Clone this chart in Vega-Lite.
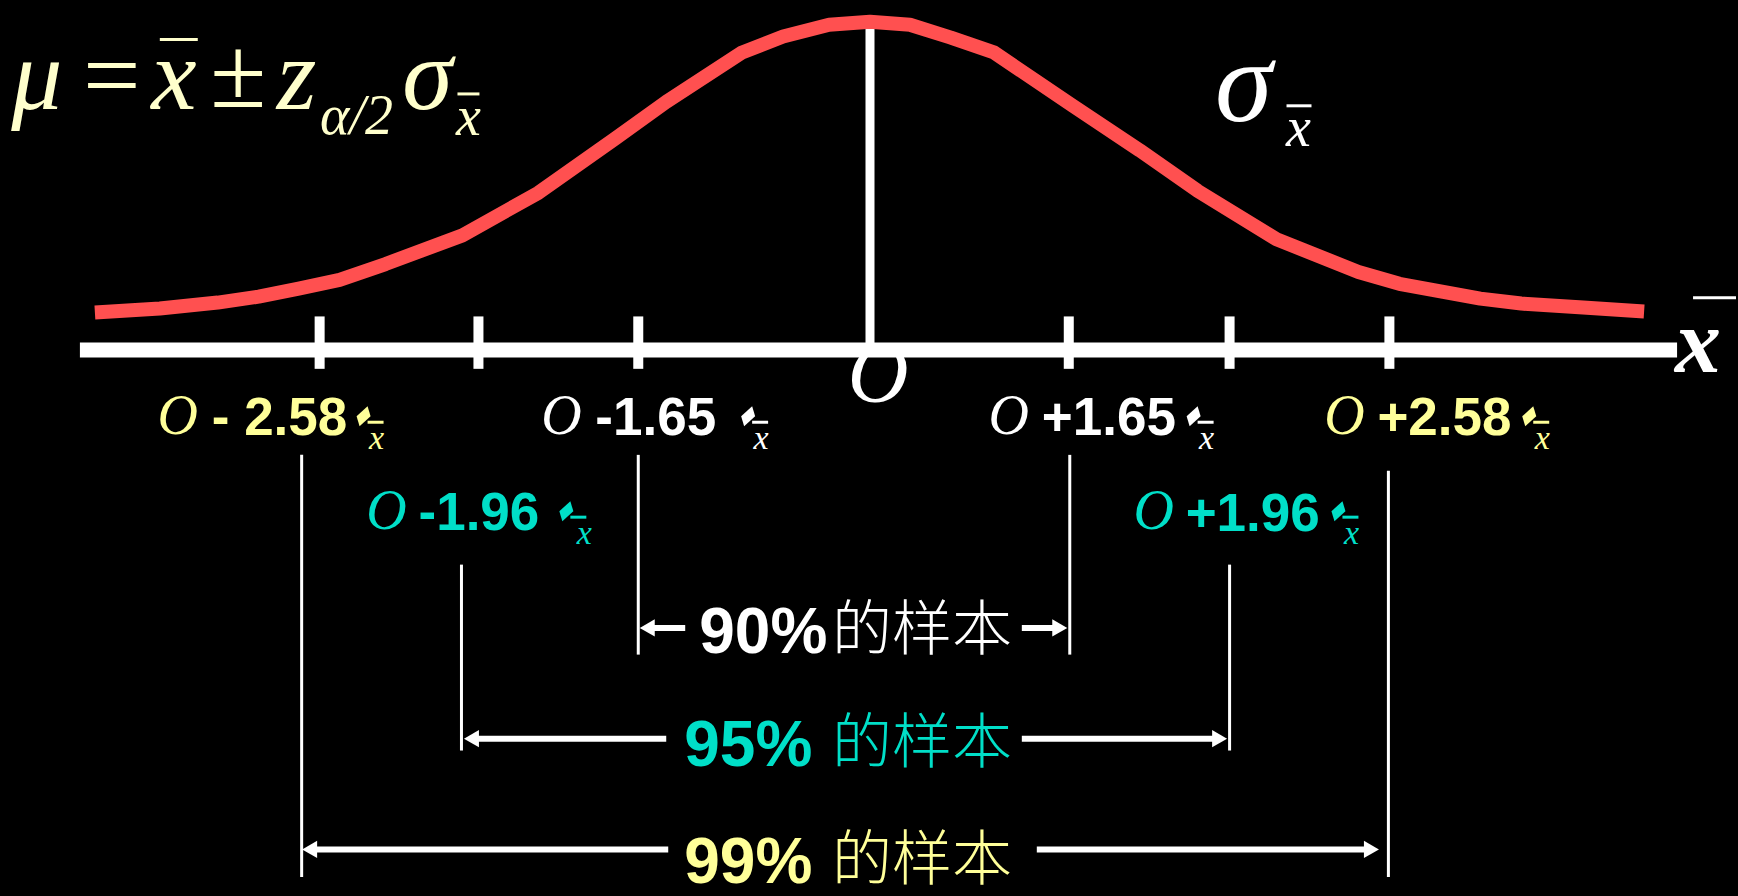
{
  "$schema": "https://vega.github.io/schema/vega-lite/v6.json",
  "width": 1738,
  "height": 896,
  "padding": 0,
  "autosize": {"type": "fit", "contains": "padding"},
  "background": "#000000",
  "config": {"view": {"stroke": null}},
  "datasets": {
    "curve": [
      {"x": 95, "y": 316}, {"x": 160, "y": 312}, {"x": 218, "y": 306}, {"x": 259, "y": 300},
      {"x": 299, "y": 292}, {"x": 340, "y": 283}, {"x": 386, "y": 267}, {"x": 463, "y": 238},
      {"x": 539, "y": 195}, {"x": 616, "y": 140}, {"x": 667, "y": 103}, {"x": 743, "y": 53},
      {"x": 784, "y": 37}, {"x": 830, "y": 25}, {"x": 871, "y": 22}, {"x": 911, "y": 25},
      {"x": 952, "y": 38}, {"x": 995, "y": 53}, {"x": 1074, "y": 107}, {"x": 1141, "y": 152},
      {"x": 1199, "y": 193}, {"x": 1278, "y": 242}, {"x": 1360, "y": 275}, {"x": 1401, "y": 287},
      {"x": 1482, "y": 302}, {"x": 1523, "y": 307}, {"x": 1585, "y": 311}, {"x": 1646, "y": 315}
    ],
    "centerline": [{"x": 871, "y": 28, "x2": 871, "y2": 352}],
    "axisline": [{"x": 80, "y": 354, "x2": 1679, "y2": 354}],
    "ticks": [
      {"x": 320, "y": 320, "x2": 320, "y2": 373},
      {"x": 479, "y": 320, "x2": 479, "y2": 373},
      {"x": 639, "y": 320, "x2": 639, "y2": 373},
      {"x": 1070, "y": 320, "x2": 1070, "y2": 373},
      {"x": 1231, "y": 320, "x2": 1231, "y2": 373},
      {"x": 1391, "y": 320, "x2": 1391, "y2": 373}
    ],
    "brackets": [
      {"x": 302, "y": 460, "x2": 302, "y2": 887},
      {"x": 1390, "y": 476, "x2": 1390, "y2": 887},
      {"x": 462, "y": 571, "x2": 462, "y2": 759},
      {"x": 1231, "y": 571, "x2": 1231, "y2": 759},
      {"x": 639, "y": 460, "x2": 639, "y2": 662},
      {"x": 1071, "y": 460, "x2": 1071, "y2": 662}
    ],
    "shafts": [
      {"x": 650, "y": 635, "x2": 686, "y2": 635},
      {"x": 1023, "y": 635, "x2": 1059, "y2": 635},
      {"x": 474, "y": 747, "x2": 667, "y2": 747},
      {"x": 1023, "y": 747, "x2": 1219, "y2": 747},
      {"x": 312, "y": 859, "x2": 669, "y2": 859},
      {"x": 1038, "y": 859, "x2": 1371, "y2": 859}
    ],
    "heads": [
      {"x": 648, "y": 635, "dir": "left"},
      {"x": 1061, "y": 635, "dir": "right"},
      {"x": 472, "y": 747, "dir": "left"},
      {"x": 1221, "y": 747, "dir": "right"},
      {"x": 310, "y": 859, "dir": "left"},
      {"x": 1373, "y": 859, "dir": "right"}
    ],
    "overbars": [
      {"x": 160, "y": 40, "x2": 198, "y2": 40, "tone": "cream"},
      {"x": 458, "y": 95, "x2": 480, "y2": 95, "tone": "cream"},
      {"x": 1288, "y": 107, "x2": 1313, "y2": 107, "tone": "white"},
      {"x": 1695, "y": 301, "x2": 1738, "y2": 301, "tone": "white"}
    ],
    "labelbars": [
      {"x": 368, "y": 427, "x2": 384, "y2": 427, "tone": "yellow"},
      {"x": 753, "y": 427, "x2": 769, "y2": 427, "tone": "white"},
      {"x": 1199, "y": 427, "x2": 1215, "y2": 427, "tone": "white"},
      {"x": 1535, "y": 427, "x2": 1551, "y2": 427, "tone": "yellow"},
      {"x": 571, "y": 523, "x2": 587, "y2": 523, "tone": "cyan"},
      {"x": 1344, "y": 523, "x2": 1360, "y2": 523, "tone": "cyan"}
    ],
    "diamonds": [
      {"x": 364, "y": 421, "tone": "yellow"},
      {"x": 749, "y": 421, "tone": "white"},
      {"x": 1195, "y": 421, "tone": "white"},
      {"x": 1531, "y": 421, "tone": "yellow"},
      {"x": 567, "y": 517, "tone": "cyan"},
      {"x": 1340, "y": 517, "tone": "cyan"}
    ],
    "subx": [
      {"x": 377, "y": 454, "text": "x", "tone": "yellow"},
      {"x": 762, "y": 454, "text": "x", "tone": "white"},
      {"x": 1208, "y": 454, "text": "x", "tone": "white"},
      {"x": 1544, "y": 454, "text": "x", "tone": "yellow"},
      {"x": 585, "y": 550, "text": "x", "tone": "cyan"},
      {"x": 1353, "y": 550, "text": "x", "tone": "cyan"}
    ],
    "labelO": [
      {"x": 178, "y": 439, "text": "O", "tone": "yellow"},
      {"x": 562, "y": 439, "text": "O", "tone": "white"},
      {"x": 1010, "y": 439, "text": "O", "tone": "white"},
      {"x": 1346, "y": 439, "text": "O", "tone": "yellow"},
      {"x": 387, "y": 535, "text": "O", "tone": "cyan"},
      {"x": 1155, "y": 535, "text": "O", "tone": "cyan"}
    ],
    "numbers": [
      {"x": 212, "y": 440, "text": "- 2.58", "tone": "yellow"},
      {"x": 596, "y": 440, "text": "-1.65", "tone": "white"},
      {"x": 1043, "y": 440, "text": "+1.65", "tone": "white"},
      {"x": 1379, "y": 440, "text": "+2.58", "tone": "yellow"},
      {"x": 419, "y": 536, "text": "-1.96", "tone": "cyan"},
      {"x": 1187, "y": 537, "text": "+1.96", "tone": "cyan"}
    ],
    "centerO": [{"x": 879, "y": 407, "text": "O", "tone": "white"}],
    "formulaBig": [
      {"x": 37, "y": 110, "text": "μ", "tone": "cream"},
      {"x": 111, "y": 110, "text": "=", "tone": "cream"},
      {"x": 174, "y": 110, "text": "x", "tone": "cream"},
      {"x": 238, "y": 108, "text": "±", "tone": "cream"},
      {"x": 297, "y": 110, "text": "z", "tone": "cream"},
      {"x": 428, "y": 110, "text": "σ", "tone": "cream"}
    ],
    "sigmaRight": [{"x": 1245, "y": 122, "text": "σ", "tone": "white"}],
    "formulaSub": [
      {"x": 357, "y": 136, "text": "α/2", "tone": "cream"},
      {"x": 469, "y": 137, "text": "x", "tone": "cream"},
      {"x": 1300, "y": 148, "text": "x", "tone": "white"}
    ],
    "axisX": [{"x": 1700, "y": 376, "text": "x", "tone": "white"}],
    "pct": [
      {"x": 700, "y": 660, "text": "90%", "tone": "white"},
      {"x": 685, "y": 775, "text": "95%", "tone": "cyan"},
      {"x": 685, "y": 893, "text": "99%", "tone": "yellow"}
    ],
    "cjk": [
      {"x": 833, "y": 657, "text": "的样本", "tone": "white"},
      {"x": 833, "y": 772, "text": "的样本", "tone": "cyan"},
      {"x": 833, "y": 890, "text": "的样本", "tone": "yellow"}
    ]
  },
  "encoding": {
    "x": {"field": "x", "type": "quantitative", "scale": {"domain": [0, 1738], "nice": false, "zero": false}, "axis": null},
    "y": {"field": "y", "type": "quantitative", "scale": {"domain": [0, 896], "reverse": true, "nice": false, "zero": false}, "axis": null}
  },
  "layer": [
    {
      "data": {"name": "centerline"},
      "mark": {"type": "rule", "color": "#FFFFFF", "strokeWidth": 9},
      "encoding": {"x2": {"field": "x2"}, "y2": {"field": "y2"}}
    },
    {
      "data": {"name": "curve"},
      "mark": {"type": "line", "color": "#FF5050", "strokeWidth": 14, "strokeJoin": "round", "strokeCap": "butt"},
      "encoding": {"order": {"field": "x", "type": "quantitative"}}
    },
    {
      "data": {"name": "centerO"},
      "mark": {"type": "text", "font": "Liberation Serif", "fontStyle": "italic", "fontSize": 84, "align": "center", "baseline": "alphabetic"},
      "encoding": {"text": {"field": "text"}, "color": {"field": "tone", "type": "nominal", "scale": {"domain": ["cream", "yellow", "white", "cyan"], "range": ["#FFFFCC", "#FFFF99", "#FFFFFF", "#00DFC8"]}, "legend": null}}
    },
    {
      "data": {"name": "axisline"},
      "mark": {"type": "rule", "color": "#FFFFFF", "strokeWidth": 15},
      "encoding": {"x2": {"field": "x2"}, "y2": {"field": "y2"}}
    },
    {
      "data": {"name": "ticks"},
      "mark": {"type": "rule", "color": "#FFFFFF", "strokeWidth": 10},
      "encoding": {"x2": {"field": "x2"}, "y2": {"field": "y2"}}
    },
    {
      "data": {"name": "overbars"},
      "mark": {"type": "rule", "strokeWidth": 3},
      "encoding": {"x2": {"field": "x2"}, "y2": {"field": "y2"}, "color": {"field": "tone", "type": "nominal", "legend": null}}
    },
    {
      "data": {"name": "labelbars"},
      "mark": {"type": "rule", "strokeWidth": 3},
      "encoding": {"x2": {"field": "x2"}, "y2": {"field": "y2"}, "color": {"field": "tone", "type": "nominal", "legend": null}}
    },
    {
      "data": {"name": "diamonds"},
      "mark": {"type": "point", "filled": true, "opacity": 1, "size": 400, "shape": "M -0.7 0 L 0.4 -1 L 0.7 0 L -0.4 1 Z"},
      "encoding": {"color": {"field": "tone", "type": "nominal", "legend": null}}
    },
    {
      "data": {"name": "formulaBig"},
      "mark": {"type": "text", "font": "Liberation Serif", "fontStyle": "italic", "fontSize": 102, "align": "center", "baseline": "alphabetic"},
      "encoding": {"text": {"field": "text"}, "color": {"field": "tone", "type": "nominal", "legend": null}}
    },
    {
      "data": {"name": "sigmaRight"},
      "mark": {"type": "text", "font": "Liberation Serif", "fontStyle": "italic", "fontSize": 116, "align": "center", "baseline": "alphabetic"},
      "encoding": {"text": {"field": "text"}, "color": {"field": "tone", "type": "nominal", "legend": null}}
    },
    {
      "data": {"name": "formulaSub"},
      "mark": {"type": "text", "font": "Liberation Serif", "fontStyle": "italic", "fontSize": 56, "align": "center", "baseline": "alphabetic"},
      "encoding": {"text": {"field": "text"}, "color": {"field": "tone", "type": "nominal", "legend": null}}
    },
    {
      "data": {"name": "axisX"},
      "mark": {"type": "text", "font": "Liberation Serif", "fontStyle": "italic", "fontWeight": "bold", "fontSize": 92, "align": "center", "baseline": "alphabetic"},
      "encoding": {"text": {"field": "text"}, "color": {"field": "tone", "type": "nominal", "legend": null}}
    },
    {
      "data": {"name": "labelO"},
      "mark": {"type": "text", "font": "Liberation Serif", "fontStyle": "italic", "fontSize": 56, "align": "center", "baseline": "alphabetic"},
      "encoding": {"text": {"field": "text"}, "color": {"field": "tone", "type": "nominal", "legend": null}}
    },
    {
      "data": {"name": "numbers"},
      "mark": {"type": "text", "font": "Liberation Sans", "fontWeight": "bold", "fontSize": 53, "align": "left", "baseline": "alphabetic"},
      "encoding": {"text": {"field": "text"}, "color": {"field": "tone", "type": "nominal", "legend": null}}
    },
    {
      "data": {"name": "subx"},
      "mark": {"type": "text", "font": "Liberation Serif", "fontStyle": "italic", "fontSize": 34, "align": "center", "baseline": "alphabetic"},
      "encoding": {"text": {"field": "text"}, "color": {"field": "tone", "type": "nominal", "legend": null}}
    },
    {
      "data": {"name": "brackets"},
      "mark": {"type": "rule", "color": "#FFFFFF", "strokeWidth": 3},
      "encoding": {"x2": {"field": "x2"}, "y2": {"field": "y2"}}
    },
    {
      "data": {"name": "shafts"},
      "mark": {"type": "rule", "color": "#FFFFFF", "strokeWidth": 6},
      "encoding": {"x2": {"field": "x2"}, "y2": {"field": "y2"}}
    },
    {
      "data": {"name": "heads"},
      "mark": {"type": "point", "filled": true, "opacity": 1, "color": "#FFFFFF", "size": 300},
      "encoding": {"shape": {"field": "dir", "type": "nominal", "scale": {"domain": ["left", "right"], "range": ["triangle-left", "triangle-right"]}, "legend": null}}
    },
    {
      "data": {"name": "pct"},
      "mark": {"type": "text", "font": "Liberation Sans", "fontWeight": "bold", "fontSize": 64, "align": "left", "baseline": "alphabetic"},
      "encoding": {"text": {"field": "text"}, "color": {"field": "tone", "type": "nominal", "legend": null}}
    },
    {
      "data": {"name": "cjk"},
      "mark": {"type": "text", "font": "Noto Sans CJK SC", "fontWeight": 300, "fontSize": 60, "align": "left", "baseline": "alphabetic"},
      "encoding": {"text": {"field": "text"}, "color": {"field": "tone", "type": "nominal", "legend": null}}
    }
  ]
}
